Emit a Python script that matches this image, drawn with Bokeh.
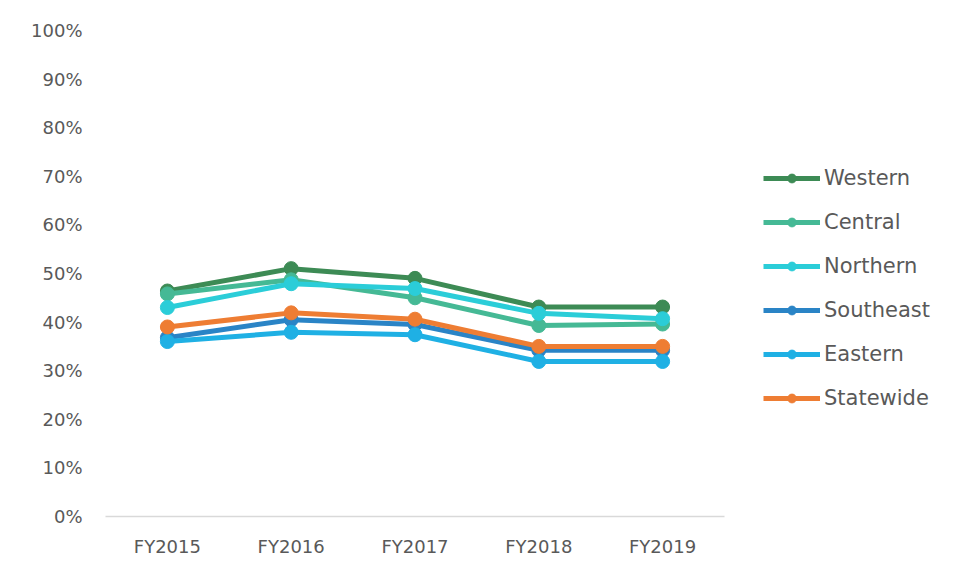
from bokeh.plotting import figure
from bokeh.models import FactorRange, Range1d, FixedTicker, NumeralTickFormatter, Legend, LegendItem
from bokeh.embed import file_html
from bokeh.resources import INLINE

years = ["FY2015", "FY2016", "FY2017", "FY2018", "FY2019"]
western = [0.464, 0.510, 0.490, 0.431, 0.431]
central = [0.458, 0.487, 0.450, 0.393, 0.396]
northern = [0.430, 0.479, 0.469, 0.418, 0.407]
southeast = [0.368, 0.405, 0.395, 0.342, 0.342]
eastern = [0.360, 0.379, 0.374, 0.319, 0.319]
statewide = [0.390, 0.419, 0.406, 0.350, 0.350]

series_names = ["Western", "Central", "Northern", "Southeast", "Eastern", "Statewide"]
series_values = [western, central, northern, southeast, eastern, statewide]
colors = ["#3d8b55", "#45b995", "#2bcdd8", "#2a84c6", "#1fb0e4", "#ee7d33"]
y_ticks = [0.0, 0.1, 0.2, 0.3, 0.4, 0.5, 0.6, 0.7, 0.8, 0.9, 1.0]

FONT = "DejaVu Sans"
TXT = "#595959"

p = figure(x_range=FactorRange(*years, range_padding=0), y_range=Range1d(0, 1),
           frame_width=619, frame_height=486, output_backend="svg", toolbar_location=None,
           min_border_left=105, min_border_top=30, min_border_bottom=50, min_border_right=0)
p.outline_line_color = None
p.xgrid.grid_line_color = None
p.ygrid.grid_line_color = None

p.yaxis.ticker = FixedTicker(ticks=y_ticks)
p.yaxis.formatter = NumeralTickFormatter(format="0%")
p.yaxis.axis_line_color = None
p.yaxis.major_tick_line_color = None
p.yaxis.major_tick_out = 0
p.yaxis.minor_tick_line_color = None
p.yaxis.major_label_text_font = FONT
p.yaxis.major_label_text_font_size = "18px"
p.yaxis.major_label_text_color = TXT
p.yaxis.major_label_standoff = 23

p.xaxis.axis_line_color = "#d9d9d9"
p.xaxis.axis_line_width = 1.5
p.xaxis.major_tick_line_color = None
p.xaxis.major_tick_out = 0
p.xaxis.minor_tick_line_color = None
p.xaxis.major_label_text_font = FONT
p.xaxis.major_label_text_font_size = "18px"
p.xaxis.major_label_text_color = TXT
p.xaxis.major_label_standoff = 19

items = []
for name, vals, c in zip(series_names, series_values, colors):
    r1 = p.line(years, vals, line_color=c, line_width=5)
    r2 = p.scatter(years, vals, size=14, fill_color=c, line_color=c)
    items.append(LegendItem(label=name, renderers=[r1, r2]))

legend = Legend(items=items, location=(39, 106), orientation="vertical",
                glyph_width=57, glyph_height=22, spacing=20, padding=0, margin=0,
                label_text_font=FONT, label_text_font_size="21px", label_text_color=TXT,
                label_standoff=4, border_line_color=None, background_fill_alpha=0)
p.add_layout(legend, "right")

open("out.html", "w").write(file_html(p, INLINE))
